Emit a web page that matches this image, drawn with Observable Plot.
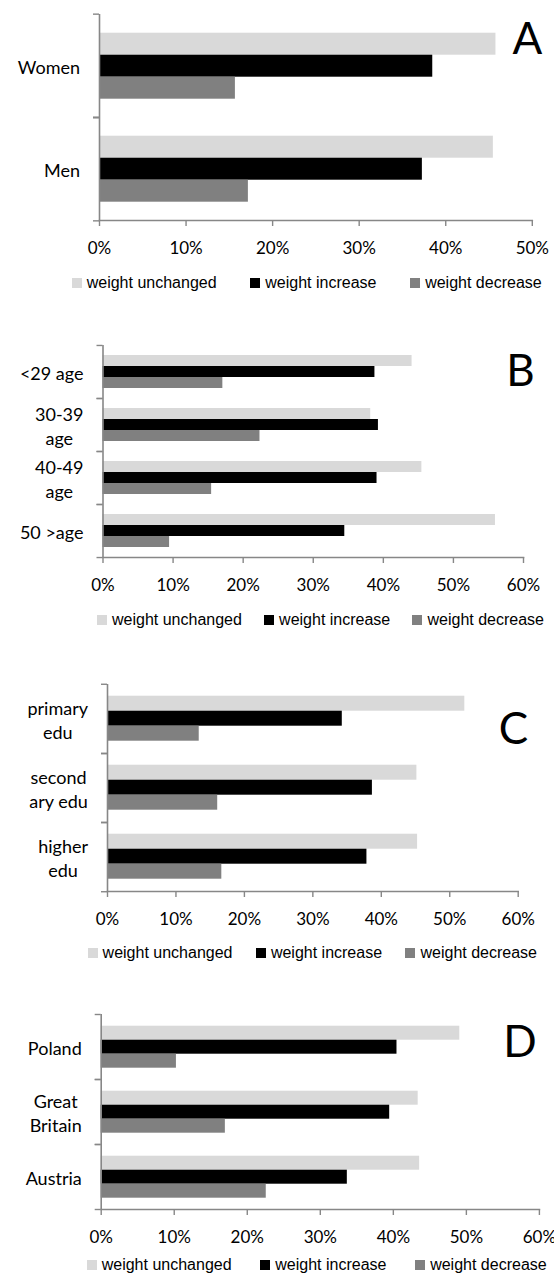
<!DOCTYPE html>
<html>
<head>
<meta charset="utf-8">
<script src="https://cdn.jsdelivr.net/npm/d3@7"></script>
<script src="https://cdn.jsdelivr.net/npm/@observablehq/plot@0.6"></script>
<style>
  html, body { margin: 0; padding: 0; background: #fff; overflow: hidden; }
  #root { position: relative; width: 554px; height: 1275px; overflow: hidden; background: #fff; }
  .panel { position: absolute; left: 0; }
  .legend { position: absolute; display: flex; justify-content: space-between; height: 20px; line-height: 20px;
            font-family: "Liberation Sans", Arial, sans-serif; font-size: 16px; color: #000; white-space: nowrap; }
  .sw { display: inline-block; width: 10px; height: 10px; margin-right: 5px; }
</style>
</head>
<body>
<div id="root"></div>
<script>
// ---------- data ----------
const series = ["weight unchanged", "weight increase", "weight decrease"];
const seriesColors = ["#d9d9d9", "#000000", "#808080"];

const panelLetters = ["A", "B", "C", "D"];

const catsA = ["Women", "Men"];
const unchangedA = [45.8, 45.5];
const increaseA = [38.5, 37.3];
const decreaseA = [15.7, 17.2];
const ticksA = [0, 10, 20, 30, 40, 50];

const catsB = ["<29 age", "30-39\nage", "40-49\nage", "50 >age"];
const unchangedB = [44.1, 38.2, 45.5, 56.0];
const increaseB = [38.8, 39.3, 39.1, 34.5];
const decreaseB = [17.1, 22.4, 15.5, 9.5];
const ticksB = [0, 10, 20, 30, 40, 50, 60];

const catsC = ["primary\nedu", "second\nary edu", "higher\nedu"];
const unchangedC = [52.2, 45.2, 45.3];
const increaseC = [34.3, 38.7, 37.9];
const decreaseC = [13.4, 16.1, 16.7];
const ticksC = [0, 10, 20, 30, 40, 50, 60];

const catsD = ["Poland", "Great\nBritain", "Austria"];
const unchangedD = [49.1, 43.4, 43.6];
const increaseD = [40.5, 39.5, 33.7];
const decreaseD = [10.3, 17.0, 22.6];
const ticksD = [0, 10, 20, 30, 40, 50, 60];

// ---------- layout ----------
const axisColor = "#878787";
const panels = [
  {cats: catsA, vals: [unchangedA, increaseA, decreaseA], ticks: ticksA,
   top: 0, height: 262, mt: 13.3, mb: 41.3, ml: 99, mr: 22.2, letterDx: -4.8, letterDy: 25.7,
   legend: {top: 272.5, left: 71.7, width: 470}},
  {cats: catsB, vals: [unchangedB, increaseB, decreaseB], ticks: ticksB,
   top: 300, height: 300, mt: 45, mb: 42.7, ml: 102.5, mr: 31, letterDx: -3, letterDy: 26.7,
   legend: {top: 609.5, left: 97, width: 447}},
  {cats: catsC, vals: [unchangedC, increaseC, decreaseC], ticks: ticksC,
   top: 640, height: 295, mt: 43.3, mb: 43.3, ml: 107, mr: 36.3, letterDx: -4.7, letterDy: 45.1,
   legend: {top: 942.5, left: 87.6, width: 449.4}},
  {cats: catsD, vals: [unchangedD, increaseD, decreaseD], ticks: ticksD,
   top: 970, height: 275, mt: 44.3, mb: 35.7, ml: 100.7, mr: 15.1, letterDx: -19.5, letterDy: 28.4,
   legend: {top: 1254.5, left: 86.7, width: 460}}
];

const labelFont = "Lato";
const labelSize = 18;
const labelGap = 19.5;
const canvas = document.createElement("canvas");
const ctx = canvas.getContext("2d");
function maxLineWidth(label) {
  ctx.font = `${labelSize}px ${labelFont}`;
  return Math.max(...label.split("\n").map(l => ctx.measureText(l).width));
}

const root = document.getElementById("root");

panels.forEach((p, pi) => {
  const rows = p.cats.flatMap((c, i) => series.map((s, j) => ({category: c, series: s, value: p.vals[j][i]})));
  const fh = (p.height - p.mt - p.mb) / p.cats.length;
  const last = p.cats[p.cats.length - 1];

  const labelMarks = p.cats.map(c => Plot.text([c], {
    fy: d => d, text: d => d, frameAnchor: "left", textAnchor: "middle", lineAnchor: "middle",
    lineHeight: 1.35, fontSize: labelSize, fontFamily: labelFont, fill: "#000",
    dx: -(labelGap + maxLineWidth(c) / 2)
  }));

  const chart = Plot.plot({
    width: 554,
    height: p.height,
    marginTop: p.mt, marginBottom: p.mb, marginLeft: p.ml, marginRight: p.mr,
    x: {domain: [0, p.ticks[p.ticks.length - 1]]},
    y: {domain: series, paddingInner: 0, paddingOuter: 0.75, axis: null},
    fy: {domain: p.cats, padding: 0},
    color: {domain: series, range: seriesColors},
    style: {background: "transparent", fontFamily: "Lato", fontSize: "17px", color: "#000", overflow: "visible"},
    marks: [
      Plot.barX(rows, {x: "value", y: "series", fy: "category", fill: "series"}),
      Plot.ruleX([0], {stroke: axisColor, strokeWidth: 1.6}),
      Plot.frame({anchor: "bottom", facetAnchor: "bottom", stroke: axisColor, strokeWidth: 1.6}),
      Plot.axisFy({anchor: "left", tickSize: 6, fill: "none", label: null, stroke: axisColor, strokeWidth: 1.4, dy: -fh / 2}),
      Plot.axisFy([last], {anchor: "left", tickSize: 6, fill: "none", label: null, stroke: axisColor, strokeWidth: 1.4, dy: fh / 2}),
      Plot.axisX({anchor: "bottom", ticks: p.ticks, tickFormat: d => d + "%", tickSize: 6, tickPadding: 15,
                  stroke: axisColor, strokeWidth: 1.4, fill: "#000", fontSize: 17, fontFamily: "Lato", label: null}),
      ...labelMarks,
      Plot.text([panelLetters[pi]], {fy: () => p.cats[0], text: d => d, frameAnchor: "top-right",
        textAnchor: "middle", lineAnchor: "middle", fontSize: 44, fontFamily: "Lato", fill: "#000",
        dx: p.letterDx, dy: p.letterDy})
    ]
  });
  const wrap = document.createElement("div");
  wrap.className = "panel";
  wrap.style.top = p.top + "px";
  wrap.appendChild(chart);
  root.appendChild(wrap);

  const lg = document.createElement("div");
  lg.className = "legend";
  lg.style.top = p.legend.top + "px";
  lg.style.left = p.legend.left + "px";
  lg.style.width = p.legend.width + "px";
  series.forEach((s, j) => {
    const item = document.createElement("span");
    const sw = document.createElement("span");
    sw.className = "sw";
    sw.style.background = seriesColors[j];
    item.appendChild(sw);
    item.appendChild(document.createTextNode(s));
    lg.appendChild(item);
  });
  root.appendChild(lg);
});
</script>
</body>
</html>
